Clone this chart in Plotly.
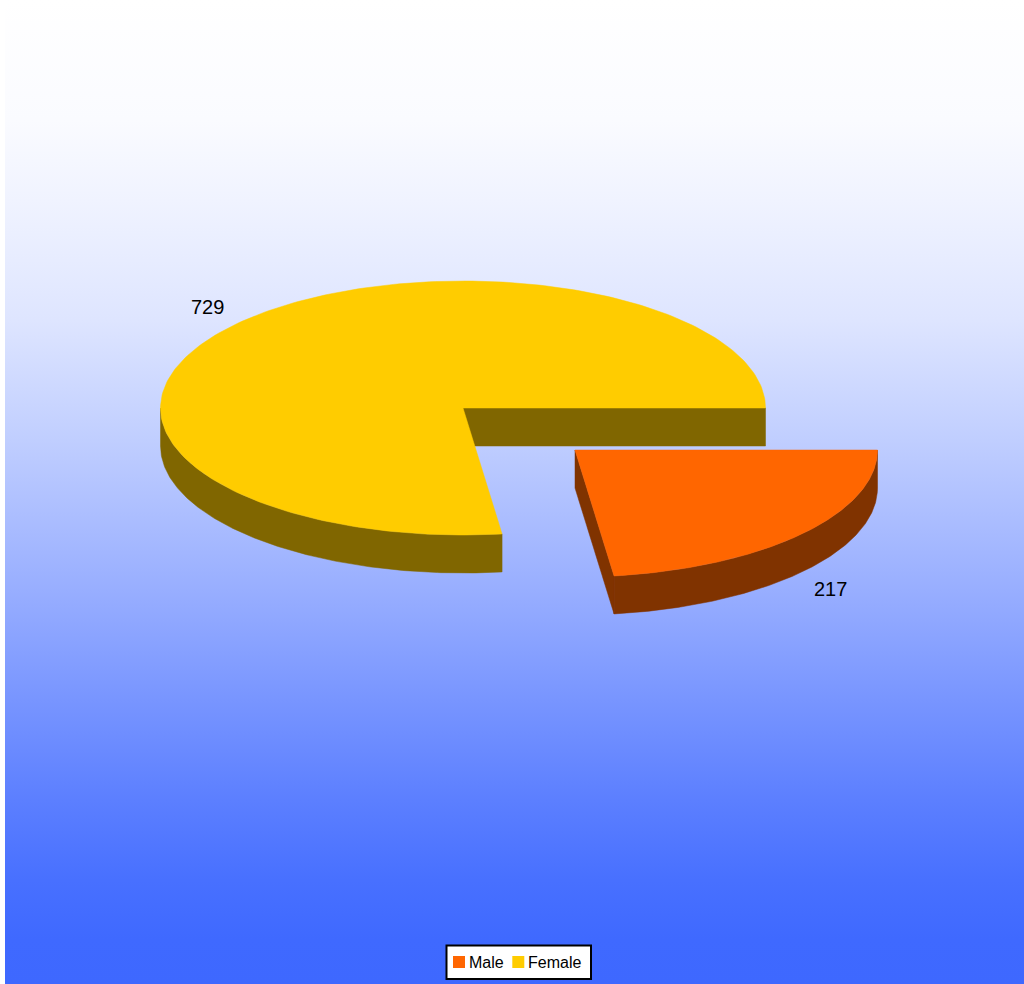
import numpy as np
import plotly.graph_objects as go

categories = ["Male", "Female"]
values = [217, 729]
top_colors = ["#FF6600", "#FFCC00"]
side_colors = ["#803300", "#806600"]

W, H = 1024, 984
CX, CY = 463, 408          # pie centre
RX, RY = 302.5, 127        # ellipse radii
DEPTH = 38
EXPLODE = [(112, 42), (0, 0)]
LABEL_POS = [(830.5, 589), (207, 307)]
LEGEND_BOX = (446.5, 945.5, 591, 979)
LEGEND_SWATCH_X = [453, 512.3]
LEGEND_TEXT_X = [467.2, 526.4]
LEGEND_SWATCH_Y = (956, 968)

total = sum(values)
fracs = np.cumsum([0] + values) / total * 2 * np.pi


def arc(cx, cy, a0, a1, n=160, dy=0):
    t = np.linspace(a0, a1, n)
    return cx + RX * np.cos(t), cy + RY * np.sin(t) + dy


fig = go.Figure()

# background gradient, white at the top to blue at the bottom
grad_y = [0, 120, 200, 320, 440, 590, 700, 800, 880, 940, 984]
grad_r = [255, 250, 240, 222, 192, 152, 120, 92, 72, 63, 62]
stops = []
for y, r in zip(grad_y, grad_r):
    g = 104 + (r - 62) * 151 / 193
    stops.append([y / H, f"rgb({r},{g:.0f},255)"])
fig.add_trace(go.Scatter(
    x=[5, W, W, 5, 5], y=[0, 0, H, H, 0], mode="lines", fill="toself",
    line=dict(width=0), hoverinfo="skip", showlegend=False,
    fillgradient=dict(type="vertical", colorscale=stops, start=0, stop=H),
))

draw_order = [1, 0]
for i in draw_order:
    a0, a1 = fracs[i], fracs[i + 1]
    cx, cy = CX + EXPLODE[i][0], CY + EXPLODE[i][1]
    # cut-edge walls that face the viewer
    for a in (a0, a1):
        ex, ey = cx + RX * np.cos(a), cy + RY * np.sin(a)
        visible = (i == 1 and abs(np.cos(a) - 1) < 1e-6) or (i == 0 and a == a1)
        if visible:
            fig.add_trace(go.Scatter(
                x=[cx, ex, ex, cx, cx], y=[cy, ey, ey + DEPTH, cy + DEPTH, cy],
                mode="lines", fill="toself", fillcolor=side_colors[i],
                line=dict(width=0.5, color=side_colors[i]),
                hoverinfo="skip", showlegend=False))
    # outer wall: only the front half of the ellipse shows
    w0, w1 = max(a0, 0), min(a1, np.pi)
    xt, yt = arc(cx, cy, w0, w1)
    xb, yb = arc(cx, cy, w0, w1, dy=DEPTH)
    fig.add_trace(go.Scatter(
        x=np.r_[xt, xb[::-1], xt[0]], y=np.r_[yt, yb[::-1], yt[0]],
        mode="lines", fill="toself", fillcolor=side_colors[i],
        line=dict(width=0.5, color=side_colors[i]),
        hoverinfo="skip", showlegend=False))
    # top face
    xt, yt = arc(cx, cy, a0, a1, n=240)
    fig.add_trace(go.Scatter(
        x=np.r_[cx, xt, cx], y=np.r_[cy, yt, cy],
        mode="lines", fill="toself", fillcolor=top_colors[i],
        line=dict(width=0.5, color=top_colors[i]),
        name=categories[i], text=[str(values[i])] * 242,
        hovertemplate="%{fullData.name}: %{text}<extra></extra>",
        showlegend=False))

for v, (lx, ly) in zip(values, LABEL_POS):
    fig.add_annotation(x=lx, y=ly, text=str(v), showarrow=False,
                       font=dict(family="Liberation Sans, Arial", size=20, color="#000000"))

# legend box drawn to the original's compact spacing
shapes = [dict(type="rect", x0=LEGEND_BOX[0], y0=LEGEND_BOX[1], x1=LEGEND_BOX[2], y1=LEGEND_BOX[3],
               fillcolor="white", line=dict(color="black", width=2), layer="above")]
for name, color, sx, tx in zip(categories, top_colors, LEGEND_SWATCH_X, LEGEND_TEXT_X):
    shapes.append(dict(type="rect", x0=sx, x1=sx + 12, y0=LEGEND_SWATCH_Y[0], y1=LEGEND_SWATCH_Y[1],
                       fillcolor=color, line=dict(width=0), layer="above"))
    fig.add_annotation(x=tx, y=sum(LEGEND_SWATCH_Y) / 2, text=name, showarrow=False, xanchor="left",
                       font=dict(family="Liberation Sans, Arial", size=16, color="#000000"))

fig.update_layout(
    width=W, height=H, margin=dict(l=0, r=0, t=0, b=0),
    paper_bgcolor="white", plot_bgcolor="white", showlegend=False, shapes=shapes,
    xaxis=dict(range=[0, W], visible=False, fixedrange=True),
    yaxis=dict(range=[H, 0], visible=False, fixedrange=True),
    font=dict(family="Liberation Sans, Arial", color="#000000"),
)
fig.write_html("out.html", config={"displayModeBar": False},
               post_script="document.body.style.margin='0';document.documentElement.style.overflow='hidden';")
